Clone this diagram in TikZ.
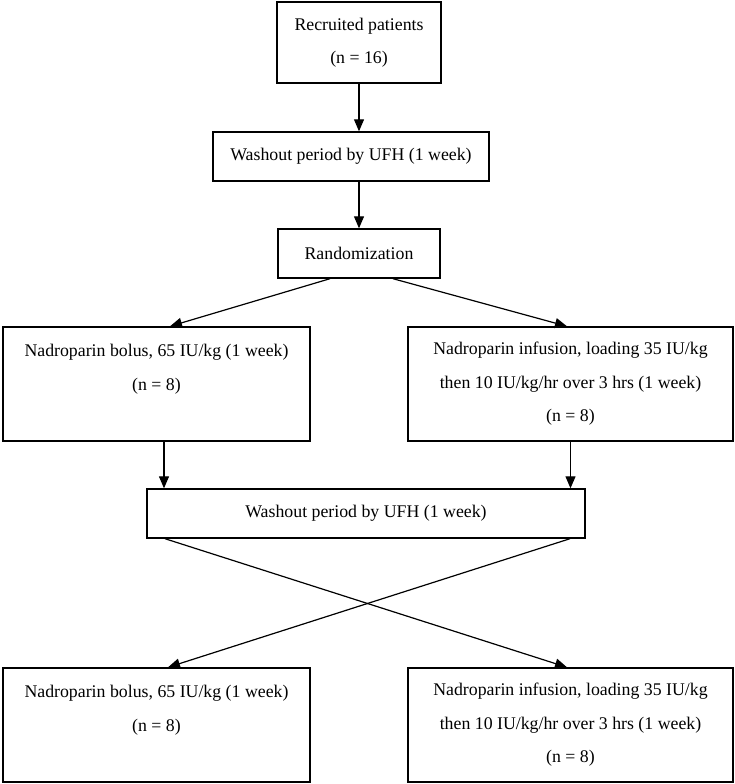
\documentclass[tikz,border=0pt]{standalone}
\usepackage{fontspec}
\setmainfont{Liberation Serif}
\usetikzlibrary{arrows.meta}
\tikzset{
	box/.style={draw, line width=1.4pt, align=center, inner sep=0pt, font=\fontsize{17.8}{33.5}\selectfont},
	arr/.style={line width=1.2pt, -{Triangle[length=12pt, width=10pt]}},
}
\begin{document}
\begin{tikzpicture}[x=1pt, y=-1pt]
	\useasboundingbox (0, 0) rectangle (735, 784);
	\node[box, minimum width=164pt, minimum height=81pt] (0) at (359, 42.5) {Recruited patients\\(n = 16)};
	\node[box, minimum width=276pt, minimum height=49pt] (1) at (351, 156.5) {Washout period by UFH (1 week)};
	\node[box, minimum width=162pt, minimum height=49pt] (2) at (359, 253.5) {Randomization};
	\node[box, minimum width=307pt, minimum height=114pt] (3) at (156.5, 384) {Nadroparin bolus, 65 IU/kg (1 week)\\(n = 8)\\\mbox{}};
	\node[box, minimum width=325pt, minimum height=114pt] (4) at (570.5, 384) {Nadroparin infusion, loading 35 IU/kg\\then 10 IU/kg/hr over 3 hrs (1 week)\\(n = 8)};
	\node[box, minimum width=438pt, minimum height=49pt] (5) at (366, 513.5) {Washout period by UFH (1 week)};
	\node[box, minimum width=307pt, minimum height=114pt] (6) at (156.5, 725) {Nadroparin bolus, 65 IU/kg (1 week)\\(n = 8)\\\mbox{}};
	\node[box, minimum width=325pt, minimum height=114pt] (7) at (570.5, 725) {Nadroparin infusion, loading 35 IU/kg\\then 10 IU/kg/hr over 3 hrs (1 week)\\(n = 8)};
	\draw[arr] (0.south) to (0.south |- 1.north);
	\draw[arr] (2.north |- 1.south) to (2.north);
	\draw[arr] ([xshift=-29pt]2.south) to ([xshift=13.5pt]3.north);
	\draw[arr] ([xshift=34pt]2.south) to ([xshift=-3.5pt]4.north);
	\draw[arr] ([xshift=7.5pt]3.south) to ([xshift=7.5pt]3.south |- 5.north);
	\draw[arr] (4.south) to (4.south |- 5.north);
	\draw[arr] ([xshift=-201pt]5.south) to ([xshift=-3.5pt]7.north);
	\draw[arr] ([xshift=204pt]5.south) to ([xshift=11.5pt]6.north);
\end{tikzpicture}
\end{document}
